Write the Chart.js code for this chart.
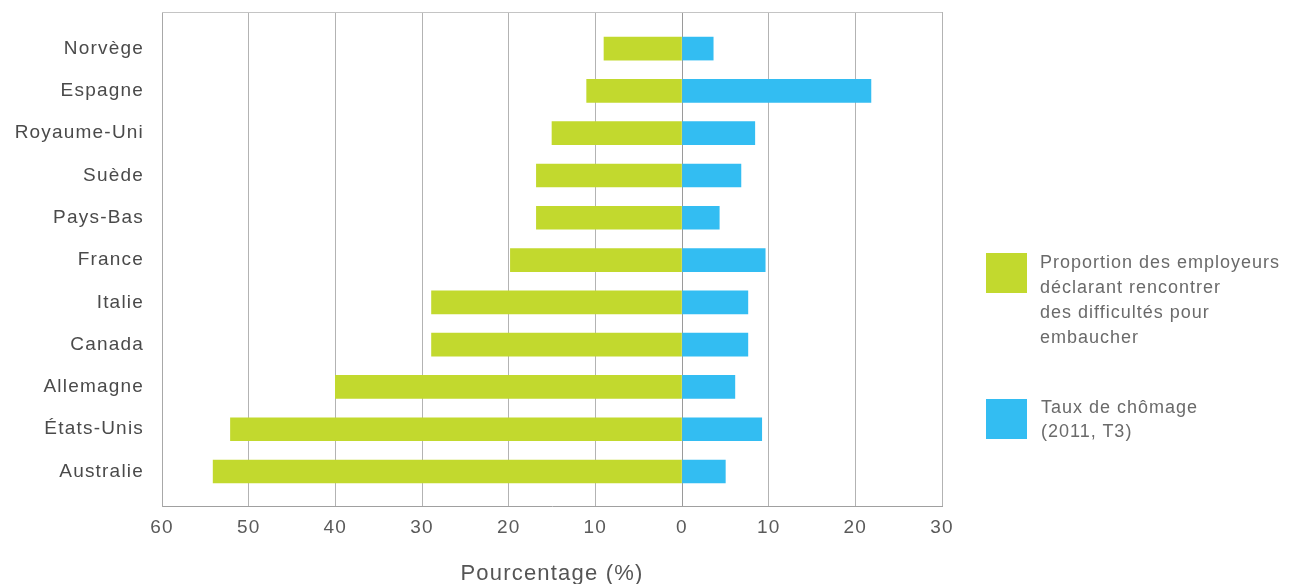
<!DOCTYPE html>
<html>
<head>
<meta charset="utf-8">
<script src="https://cdn.jsdelivr.net/npm/chart.js@4/dist/chart.umd.min.js"></script>
<style>
  html, body { margin: 0; padding: 0; background: #fff; }
  #wrap { position: relative; width: 1294px; height: 584px; overflow: hidden; }
  canvas { position: absolute; left: 0; top: 0; }
  .lg-box { position: absolute; left: 986px; width: 41px; height: 40px; }
  .lg-text { position: absolute; left: 1040px; font-family: "Liberation Sans", Arial, sans-serif; font-size: 18px; letter-spacing: 1px; color: #6a6a6a; white-space: nowrap; }
</style>
</head>
<body>
<div id="wrap">
  <canvas id="c" width="1294" height="584"></canvas>
  <div class="lg-box" style="top:253px; background:#C2D92E;"></div>
  <div class="lg-text" style="top:250px; line-height:25px;">Proportion des employeurs<br>déclarant rencontrer<br>des difficultés pour<br>embaucher</div>
  <div class="lg-box" style="top:399px; background:#33BDF2;"></div>
  <div class="lg-text" style="top:395px; left:1041px; line-height:24px;">Taux de chômage<br>(2011, T3)</div>
</div>
<script>
const categories = ['Norvège', 'Espagne', 'Royaume-Uni', 'Suède', 'Pays-Bas', 'France', 'Italie', 'Canada', 'Allemagne', 'États-Unis', 'Australie'];
const employersDifficulty = [9, 11, 15, 16.8, 16.8, 19.8, 28.9, 28.9, 40, 52.1, 54.1];
const unemploymentRate = [3.6, 21.8, 8.4, 6.8, 4.3, 9.6, 7.6, 7.6, 6.1, 9.2, 5.0];
const xTicks = [-60, -50, -40, -30, -20, -10, 0, 10, 20, 30];
const xTitle = 'Pourcentage (%)';

const FONT = '"Liberation Sans", Arial, sans-serif';

const spacingPlugin = {
  id: 'spacing',
  beforeDraw(chart) { chart.ctx.letterSpacing = '1.2px'; },
  afterDraw(chart) { chart.ctx.letterSpacing = '0px'; }
};
const framePlugin = {
  id: 'frame',
  afterDraw(chart) {
    const a = chart.chartArea, ctx = chart.ctx;
    ctx.save();
    ctx.strokeStyle = '#c4c4c4';
    ctx.lineWidth = 1;
    ctx.beginPath();
    ctx.moveTo(a.left, a.top + 0.5);
    ctx.lineTo(a.right, a.top + 0.5);
    ctx.stroke();
    ctx.restore();
  }
};

new Chart(document.getElementById('c'), {
  type: 'bar',
  data: {
    datasets: [
      {
        label: 'Proportion des employeurs déclarant rencontrer des difficultés pour embaucher',
        data: employersDifficulty.map((v, i) => ({ x: -v, y: i })),
        backgroundColor: '#C2D92E',
        barThickness: 23
      },
      {
        label: 'Taux de chômage (2011, T3)',
        data: unemploymentRate.map((v, i) => ({ x: v, y: i })),
        backgroundColor: '#33BDF2',
        barThickness: 23
      }
    ]
  },
  options: {
    indexAxis: 'y',
    responsive: false,
    devicePixelRatio: 1,
    animation: false,
    layout: { padding: { left: 0, right: 352, top: 12, bottom: 0 } },
    plugins: { legend: { display: false }, tooltip: { enabled: false } },
    scales: {
      x: {
        type: 'linear',
        stacked: true,
        min: -60,
        max: 30,
        afterBuildTicks: (axis) => { axis.ticks = xTicks.map(v => ({ value: v })); },
        afterFit: (axis) => { axis.height = 78; },
        ticks: {
          callback: (v) => String(Math.abs(v)),
          font: { family: FONT, size: 19 },
          color: '#5a5a5a',
          padding: 10,
          maxRotation: 0
        },
        grid: {
          drawTicks: false,
          color: (ctx) => (ctx.tick && ctx.tick.value === 0 ? '#9a9a9a' : '#b3b3b3'),
          lineWidth: 1
        },
        border: { display: true, color: '#a0a0a0' },
        title: {
          display: true,
          text: xTitle,
          font: { family: FONT, size: 22, lineHeight: 0.9 },
          color: '#555',
          padding: { top: 0, bottom: 0 }
        }
      },
      y: {
        type: 'linear',
        stacked: true,
        reverse: true,
        offset: false,
        min: -0.865,
        max: 10.815,
        afterBuildTicks: (axis) => { axis.ticks = categories.map((c, i) => ({ value: i })); },
        afterFit: (axis) => { axis.width = 162; axis.paddingTop = 0; axis.paddingBottom = 0; },
        ticks: {
          autoSkip: false,
          callback: (v) => categories[v] ?? '',
          font: { family: FONT, size: 19 },
          color: '#4a4a4a',
          padding: 10
        },
        grid: { display: false, offset: false },
        border: { display: true, color: '#a8a8a8' }
      }
    }
  },
  plugins: [spacingPlugin, framePlugin]
});
</script>
</body>
</html>
